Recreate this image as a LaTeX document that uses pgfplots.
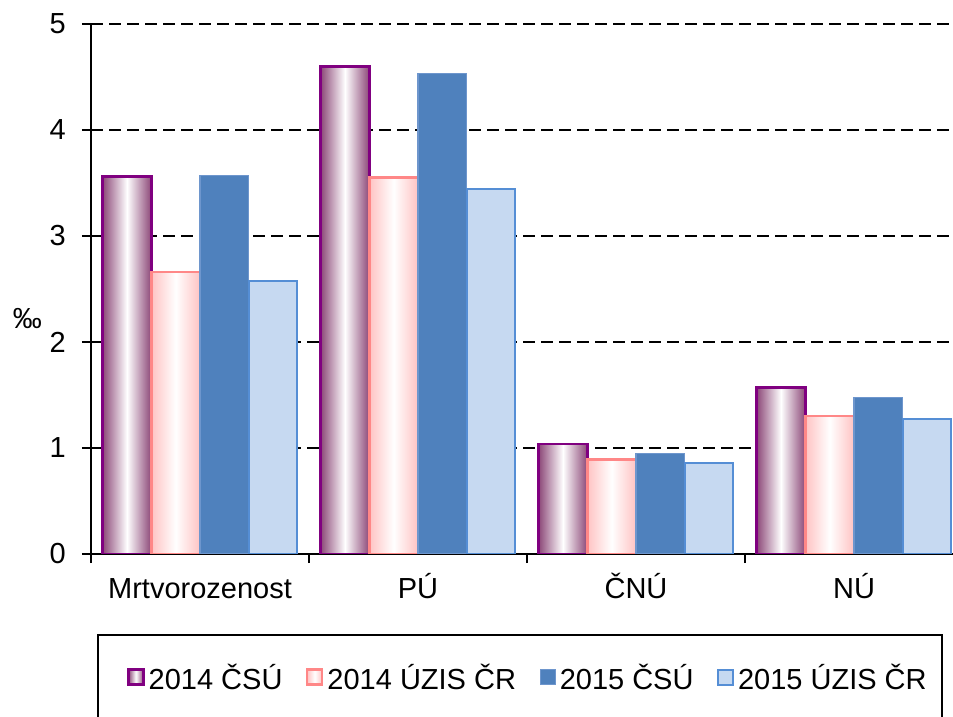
\documentclass[border=0pt]{standalone}
\usepackage{fontspec}
\setmainfont{Liberation Sans}
\usepackage{pgfplots}
\pgfplotsset{compat=1.18}
\definecolor{purp}{RGB}{128,0,128}
\definecolor{purpshade}{RGB}{140,72,120}
\definecolor{pinkline}{RGB}{255,135,135}
\definecolor{pinkshade}{RGB}{255,195,195}
\definecolor{blueA}{RGB}{79,129,189}
\definecolor{blueAline}{RGB}{110,150,205}
\definecolor{blueB}{RGB}{198,217,241}
\definecolor{blueBline}{RGB}{85,142,213}
\newcommand{\bigf}{\fontsize{29bp}{35bp}\selectfont}
\pgfplotsset{
  sA/.style={draw=purp, line width=2.5bp, left color=purpshade, right color=purpshade, middle color=white},
  sB/.style={draw=pinkline, line width=2.5bp, left color=pinkshade, right color=pinkshade, middle color=white},
  sC/.style={draw=blueAline, line width=1.2bp, fill=blueA},
  sD/.style={draw=blueBline, line width=2bp, fill=blueB},
}
\begin{document}
\begin{tikzpicture}
\useasboundingbox (0,0) rectangle (953bp,717bp);
\begin{axis}[
  at={(91bp,163bp)}, anchor=south west,
  scale only axis, width=862bp, height=530bp,
  xmin=-0.5, xmax=3.454, ymin=0, ymax=5,
  axis lines*=left,
  axis line style={line width=2.5bp, black},
  ybar, bar width=48.7bp,
  xtick={0,1,2,3}, xticklabels={Mrtvorozenost,PÚ,ČNÚ,NÚ},
  minor xtick={-0.5,0.5,1.5,2.5},
  ytick={0,1,2,3,4,5},
  tick align=outside,
  major tick length=9bp, minor tick length=9bp,
  tick style={line width=2.5bp, black},
  major x tick style={draw=none},
  /pgf/number format/assume math mode=true,
  xticklabel style={font=\bigf, text height=22bp, text depth=6bp, inner sep=0pt, anchor=north, yshift=-13bp},
  yticklabel style={font=\bigf, inner xsep=16bp},
  ymajorgrids,
  major grid style={line width=2bp, black, dash pattern=on 12bp off 6bp},
  ylabel={‰},
  ylabel style={rotate=-90, at={(axis description cs:-0.0568,0.445)}, anchor=east, font=\bigf, inner sep=0pt},
  legend columns=4,
  legend image code/.code={\draw[#1] (0bp,-6.5bp) rectangle (15bp,8.5bp);},
  legend style={draw=none, fill=none, inner sep=0pt, at={(0.04176,-0.2340)}, anchor=west,
    font=\bigf, nodes={inner xsep=0bp, inner ysep=2bp},
    /tikz/every odd column/.append style={column sep=4bp},
    /tikz/every even column/.append style={column sep=23.5bp}},
]
% 2014 CSU (shaded per bar)
\addplot[sA, bar shift=-73.05bp, forget plot] coordinates {(0,3.56)};
\addplot[sA, bar shift=-73.05bp, forget plot] coordinates {(1,4.60)};
\addplot[sA, bar shift=-73.05bp, forget plot] coordinates {(2,1.04)};
\addplot[sA, bar shift=-73.05bp, forget plot] coordinates {(3,1.57)};
% 2014 UZIS CR (shaded per bar)
\addplot[sB, bar shift=-24.35bp, forget plot] coordinates {(0,2.66)};
\addplot[sB, bar shift=-24.35bp, forget plot] coordinates {(1,3.55)};
\addplot[sB, bar shift=-24.35bp, forget plot] coordinates {(2,0.89)};
\addplot[sB, bar shift=-24.35bp, forget plot] coordinates {(3,1.30)};
% 2015 CSU
\addplot[sC, bar shift=24.35bp, forget plot] coordinates {(0,3.57) (1,4.53) (2,0.95) (3,1.48)};
% 2015 UZIS CR
\addplot[sD, bar shift=73.05bp, forget plot] coordinates {(0,2.58) (1,3.44) (2,0.86) (3,1.27)};
\addlegendimage{sA}
\addlegendimage{sB}
\addlegendimage{sC}
\addlegendimage{sD}
\legend{2014 ČSÚ,2014 ÚZIS ČR,2015 ČSÚ,2015 ÚZIS ČR}
\end{axis}
\draw[line width=2.5bp, black] (98bp,-5bp) -- (98bp,82bp) -- (942bp,82bp) -- (942bp,-5bp);
\end{tikzpicture}
\end{document}
